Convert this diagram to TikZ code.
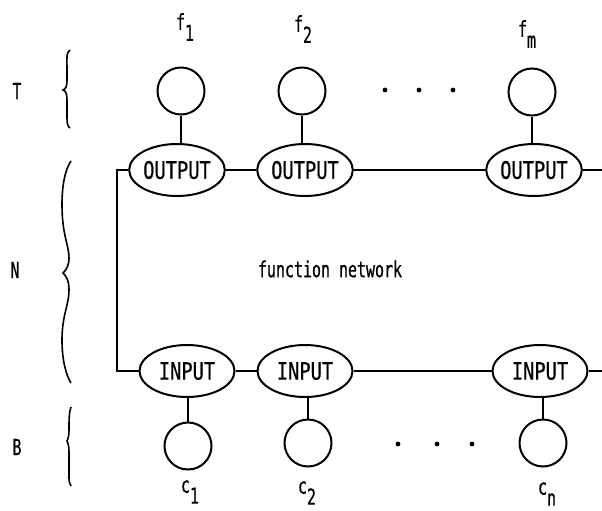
\documentclass[tikz,border=0pt]{standalone}
\usepackage{fontspec}
\usetikzlibrary{shapes.geometric}
\newfontfamily\lpfont[FakeStretch=0.78,FakeBold=0.6]{DejaVu Sans Mono}
\newfontfamily\lpnarrow[FakeStretch=0.68,FakeBold=0.6]{DejaVu Sans Mono}
\tikzset{
  x=1pt, y=-1pt,
  every path/.style={line width=2pt},
  unit/.style={draw, circle, minimum size=47pt, inner sep=0pt},
  port/.style={draw, ellipse, minimum width=95pt, minimum height=52pt, inner sep=0pt,
               font=\lpfont\fontsize{24}{24}\selectfont},
  lbl/.style={font=\lpnarrow\fontsize{22}{22}\selectfont, inner sep=0pt},
}
\newcommand{\sub}[2]{#1\raisebox{-11pt}{#2}}
\begin{document}
\begin{tikzpicture}
\useasboundingbox (0,0) rectangle (602,511);

% top layer T: function units and their labels
\node[unit] (t1) at (181,91) {};
\node[unit] (t2) at (302,91) {};
\node[unit] (tm) at (532,92) {};
\node[lbl] (lf1) at (185,27) {\sub{f}{1}};
\node[lbl] (lf2) at (303,29) {\sub{f}{2}};
\node[lbl] (lfm) at (527,34) {\sub{f}{m}};

% output ports
\node[port] (o1) at (177,170) {OUTPUT};
\node[port] (o2) at (305,170) {OUTPUT};
\node[port] (om) at (534,170) {OUTPUT};

% input ports
\node[port] (i1) at (187,371) {INPUT};
\node[port] (i2) at (305,371) {INPUT};
\node[port] (in) at (540,371) {INPUT};

% bottom layer B: argument units and their labels
\node[unit] (b1) at (188,446) {};
\node[unit] (b2) at (308,443) {};
\node[unit] (bn) at (543,443) {};
\node[lbl] (lc1) at (190,492) {\sub{c}{1}};
\node[lbl] (lc2) at (307,493) {\sub{c}{2}};
\node[lbl] (lcn) at (547,494) {\sub{c}{n}};

% network label
\node[lbl] (fn) at (330,269) {function network};

% layer names
\node[lbl] (lT) at (17,91) {T};
\node[lbl] (lN) at (15,270) {N};
\node[lbl] (lB) at (17,447) {B};

% stems between units and ports
\draw (t1.south) -- (t1.south |- o1.north);
\draw (t2.south) -- (t2.south |- o2.north);
\draw (tm.south) -- (tm.south |- om.north);
\draw (b1.north) -- (b1.north |- i1.south);
\draw (b2.north) -- (b2.north |- i2.south);
\draw (bn.north) -- (bn.north |- in.south);

% network bus lines
\coordinate (oend) at (602,170);
\coordinate (iend) at (602,371);
\coordinate (corner) at (117,170);
\draw (o1.west) -- (corner) |- (i1.west);
\draw (o1.east) -- (o2.west);
\draw (o2.east) -- (om.west);
\draw (om.east) -- (oend);
\draw (i1.east) -- (i2.west);
\draw (i2.east) -- (in.west);
\draw (in.east) -- (iend);

% ellipsis dots
\foreach \x in {385,419,453} \fill (\x,90) circle (2.4);
\foreach \x in {398,437,472} \fill (\x,444) circle (2.4);

% braces
\draw[line width=1.6pt] (70,50) .. controls (66,52) and (67,60) .. (67,70) -- (67,80)
  .. controls (67,86) and (66,89) .. (63,90) .. controls (66,91) and (67,94) .. (67,100)
  -- (67,118) .. controls (67,124) and (68,127) .. (70,128);
\draw[line width=1.6pt] (71,161) .. controls (65,170) and (62,185) .. (62,205)
  .. controls (62,235) and (69,245) .. (69,258) .. controls (69,266) and (66,270) .. (63,273)
  .. controls (66,276) and (69,280) .. (69,290) .. controls (69,305) and (62,315) .. (62,340)
  .. controls (62,360) and (66,375) .. (71,383);
\draw[line width=1.6pt] (71,407) .. controls (69,412) and (69,420) .. (69,430)
  .. controls (69,436) and (68,439) .. (67,441) .. controls (68,443) and (69,446) .. (69,452)
  -- (69,478) .. controls (69,482) and (70,484) .. (71,486);
\end{tikzpicture}
\end{document}
